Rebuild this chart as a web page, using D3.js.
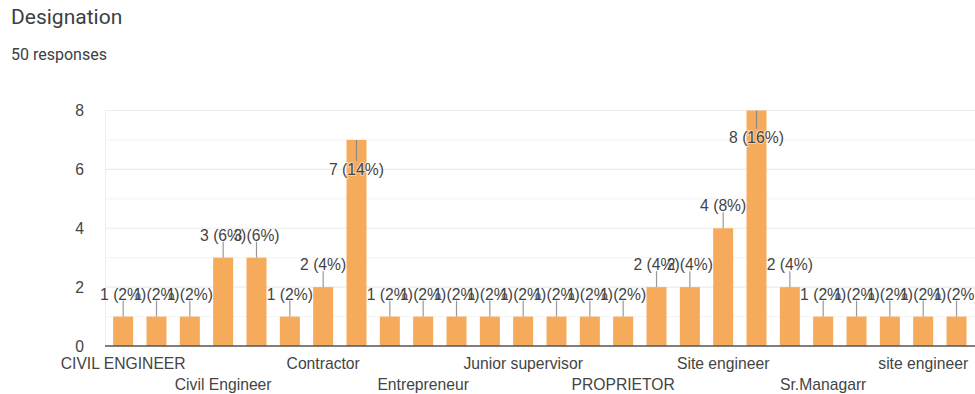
<!DOCTYPE html>
<html>
<head>
<meta charset="utf-8">
<script src="https://cdn.jsdelivr.net/npm/d3@7"></script>
<style>
  html, body { margin: 0; padding: 0; background: #fff; }
  svg { display: block; }
</style>
</head>
<body>
<svg id="chart" width="975" height="394"></svg>
<script>
// Designation responses (50 total). Only every third category name is printed on the axis.
const categories = [
  "CIVIL ENGINEER", "", "", "Civil Engineer", "", "", "Contractor", "", "",
  "Entrepreneur", "", "", "Junior supervisor", "", "", "PROPRIETOR", "", "",
  "Site engineer", "", "", "Sr.Managarr", "", "", "site engineer", ""
];
const counts = [1, 1, 1, 3, 3, 1, 2, 7, 1, 1, 1, 1, 1, 1, 1, 1, 2, 2, 4, 8, 2, 1, 1, 1, 1, 1];
const totalResponses = 50;
const yTicks = [0, 2, 4, 6, 8];
const yGrid = [1, 2, 3, 4, 5, 6, 7, 8];

const svg = d3.select("#chart");

// Header
svg.append("text")
  .attr("x", 11).attr("y", 24)
  .attr("font-family", "Roboto, sans-serif")
  .attr("font-size", 21)
  .attr("fill", "#3c4043")
  .text("Designation");
svg.append("text")
  .attr("x", 11).attr("y", 60)
  .attr("font-family", "Roboto, sans-serif")
  .attr("font-size", 16)
  .attr("fill", "#3c4043")
  .text(totalResponses + " responses");

const x = d3.scaleBand()
  .domain(d3.range(categories.length))
  .range([106.5, 973.2])
  .paddingInner(0.4)
  .paddingOuter(0.2);

const y = d3.scaleLinear().domain([0, 8]).range([346, 110.5]);

const font = "'Liberation Sans', Arial, sans-serif";
const fs = 15.7;

// Gridlines
svg.append("g")
  .selectAll("line")
  .data(yGrid)
  .join("line")
  .attr("x1", 105).attr("x2", 975)
  .attr("y1", d => y(d)).attr("y2", d => y(d))
  .attr("stroke", d => d % 2 === 0 ? "#ececec" : "#f5f5f5")
  .attr("stroke-width", 1.2);

svg.append("line")
  .attr("x1", 105.5).attr("x2", 105.5)
  .attr("y1", y(8)).attr("y2", y(0))
  .attr("stroke", "#efefef")
  .attr("stroke-width", 1.2);

// Y axis tick labels
const yAxis = d3.axisLeft(y).tickValues(yTicks).tickSize(0).tickPadding(0);
const yg = svg.append("g").attr("transform", "translate(84,0)").call(yAxis);
yg.select(".domain").remove();
yg.selectAll("text")
  .attr("font-family", font)
  .attr("font-size", fs)
  .attr("fill", "#444");

// Bars
svg.append("g")
  .selectAll("rect")
  .data(counts)
  .join("rect")
  .attr("x", (d, i) => x(i))
  .attr("y", d => y(d))
  .attr("width", x.bandwidth())
  .attr("height", d => y(0) - y(d))
  .attr("fill", "#f6aa5b");

// Baseline
svg.append("line")
  .attr("x1", 105).attr("x2", 975)
  .attr("y1", y(0)).attr("y2", y(0))
  .attr("stroke", "#555")
  .attr("stroke-width", 1.6);

// Value annotations with stems; the tallest bars carry theirs inside the bar
const inside = d => d >= 7;
const cx = i => x(i) + x.bandwidth() / 2;
const ann = svg.append("g");
ann.selectAll("line")
  .data(counts)
  .join("line")
  .attr("x1", (d, i) => cx(i)).attr("x2", (d, i) => cx(i))
  .attr("y1", d => y(d))
  .attr("y2", d => inside(d) ? y(d) + (d === 8 ? 18 : 21) : y(d) - 16)
  .attr("stroke", d => inside(d) ? "#8a8a8a" : "#999")
  .attr("stroke-width", 1.2);

ann.selectAll("text")
  .data(counts)
  .join("text")
  .attr("x", (d, i) => cx(i))
  .attr("y", d => inside(d) ? y(d) + (d === 8 ? 32 : 35) : y(d) - 17)
  .attr("text-anchor", "middle")
  .attr("font-family", font)
  .attr("font-size", fs)
  .attr("fill", "#444")
  .attr("stroke", d => inside(d) ? "rgba(255,255,255,0.45)" : "none")
  .attr("stroke-width", 2)
  .attr("paint-order", "stroke")
  .text(d => `${d} (${Math.round(d / totalResponses * 100)}%)`);

// Category labels, staggered on two rows
const labelled = categories.map((c, i) => ({ c, i })).filter(o => o.c !== "");
svg.append("g")
  .selectAll("text")
  .data(labelled)
  .join("text")
  .attr("x", o => cx(o.i))
  .attr("y", (o, k) => k % 2 === 0 ? 369 : 390)
  .attr("text-anchor", "middle")
  .attr("font-family", font)
  .attr("font-size", fs)
  .attr("fill", "#444")
  .text(o => o.c);
</script>
</body>
</html>
